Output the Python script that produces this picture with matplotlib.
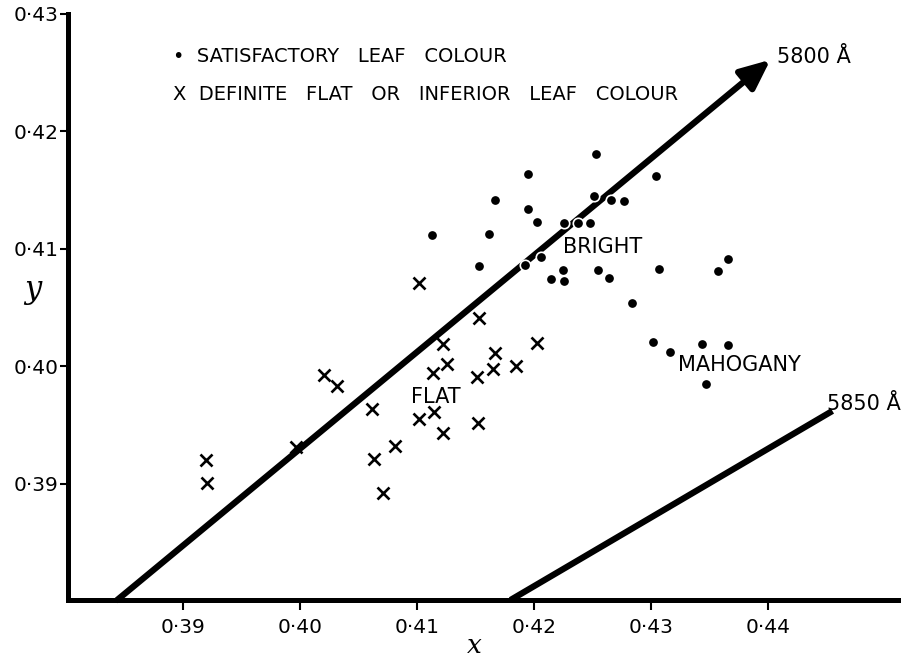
import numpy as np
import matplotlib.pyplot as plt

# satisfactory leaf colour (dots)
good_x = [0.4253, 0.4304, 0.4195, 0.4167, 0.4195, 0.4203, 0.4113, 0.4162,
          0.4226, 0.4238, 0.4248, 0.4251, 0.4266, 0.4277, 0.4153, 0.4192,
          0.4206, 0.4225, 0.4215, 0.4226, 0.4255, 0.4264, 0.4307, 0.4357,
          0.4366, 0.4284, 0.4302, 0.4316, 0.4344, 0.4366, 0.4347]
good_y = [0.4181, 0.4162, 0.4164, 0.4142, 0.4134, 0.4123, 0.4112, 0.4113,
          0.4122, 0.4122, 0.4122, 0.4145, 0.4142, 0.4141, 0.4085, 0.4086,
          0.4093, 0.4082, 0.4074, 0.4073, 0.4082, 0.4075, 0.4083, 0.4081,
          0.4091, 0.4054, 0.4021, 0.4012, 0.4019, 0.4018, 0.3985]

# definite flat or inferior leaf colour (crosses)
bad_x = [0.4102, 0.4153, 0.4203, 0.4122, 0.4126, 0.4114, 0.4167, 0.4165,
         0.4185, 0.4151, 0.4021, 0.4032, 0.4062, 0.4102, 0.4115, 0.4122,
         0.4152, 0.3997, 0.4081, 0.4063, 0.4071, 0.3920, 0.3921]
bad_y = [0.4071, 0.4041, 0.4020, 0.4019, 0.4002, 0.3994, 0.4011, 0.3998,
         0.4000, 0.3991, 0.3993, 0.3983, 0.3964, 0.3955, 0.3961, 0.3943,
         0.3952, 0.3931, 0.3932, 0.3921, 0.3892, 0.3920, 0.3901]

# dominant wavelength lines (start, end)
line_5800_x = [0.3844, 0.4402]
line_5800_y = [0.3801, 0.4261]
line_5850_x = [0.4180, 0.4455]
line_5850_y = [0.3801, 0.3962]

xticks = [0.39, 0.40, 0.41, 0.42, 0.43, 0.44]
yticks = [0.39, 0.40, 0.41, 0.42, 0.43]
tick_labels_x = ["0·39", "0·40", "0·41", "0·42", "0·43", "0·44"]
tick_labels_y = ["0·39", "0·40", "0·41", "0·42", "0·43"]

fig = plt.figure(figsize=(9.1, 6.6), dpi=100)
ax = fig.add_axes([0.0747, 0.0909, 0.9121, 0.8879])
ax.set_xlim(0.3802, 0.4511)
ax.set_ylim(0.3801, 0.4298)

# lines
ax.plot(line_5850_x, line_5850_y, color='black', lw=4.5, solid_capstyle='butt', zorder=2)
ax.annotate('', xy=(line_5800_x[1], line_5800_y[1]), xytext=(line_5800_x[0], line_5800_y[0]),
            arrowprops=dict(arrowstyle='-|>,head_length=0.9,head_width=0.4', lw=4.5,
                            color='black', shrinkA=0, shrinkB=0, mutation_scale=20),
            zorder=2)

# points
ax.plot(good_x, good_y, 'o', color='black', markersize=7.5,
        markeredgecolor='white', markeredgewidth=1.2, zorder=3)
ax.plot(bad_x, bad_y, 'x', color='black', markersize=9, markeredgewidth=1.9, zorder=3)

# spines / ticks
for s in ['top', 'right']:
    ax.spines[s].set_visible(False)
for s in ['left', 'bottom']:
    ax.spines[s].set_linewidth(3.6)
ax.set_xticks(xticks)
ax.set_xticklabels(tick_labels_x, fontsize=14.5)
ax.set_yticks(yticks)
ax.set_yticklabels(tick_labels_y, fontsize=14.5)
ax.tick_params(axis='x', length=7, width=1.5, pad=6)
ax.tick_params(axis='y', length=6, width=1.5, pad=1)

ax.set_xlabel('x', fontsize=19, family='DejaVu Serif', style='italic', va='center')
ax.xaxis.set_label_coords(0.49, -0.078)
ax.set_ylabel('y', fontsize=22, family='DejaVu Serif', style='italic', rotation=0, va='center')
ax.yaxis.set_label_coords(-0.042, 0.53)

# legend-like text
ax.text(0.126, 0.927, '•  SATISFACTORY   LEAF   COLOUR', transform=ax.transAxes,
        fontsize=14, va='center', ha='left')
ax.text(0.126, 0.863, 'X  DEFINITE   FLAT   OR   INFERIOR   LEAF   COLOUR', transform=ax.transAxes,
        fontsize=14, va='center', ha='left')

# region labels
ax.text(0.4225, 0.4102, 'BRIGHT', fontsize=15, va='center', ha='left')
ax.text(0.4323, 0.4001, 'MAHOGANY', fontsize=15, va='center', ha='left')
ax.text(0.4095, 0.3974, 'FLAT', fontsize=15, va='center', ha='left')
ax.text(0.4408, 0.4263, '5800 Å', fontsize=15, va='center', ha='left')
ax.text(0.4450, 0.3968, '5850 Å', fontsize=15, va='center', ha='left')

fig.savefig('out.png', dpi=100)
